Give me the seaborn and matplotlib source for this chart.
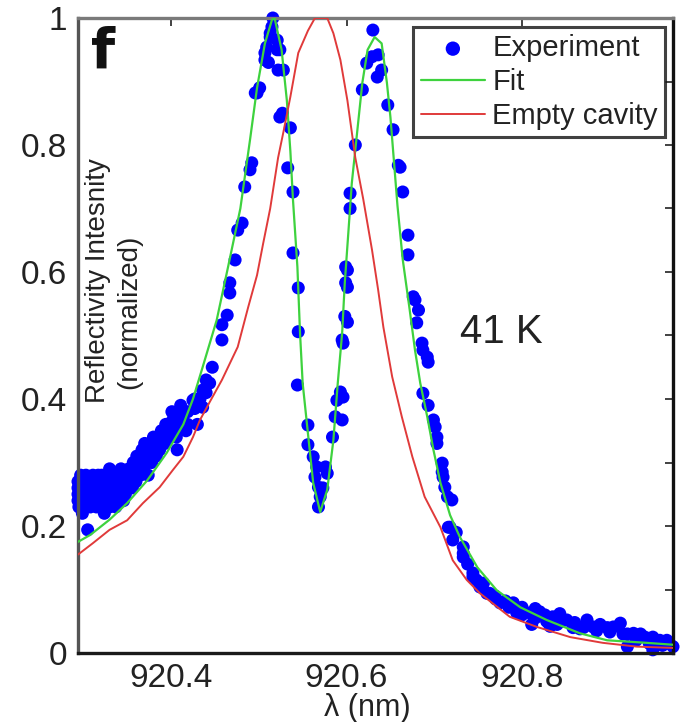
import numpy as np
import pandas as pd
import matplotlib
matplotlib.use("Agg")
import matplotlib.pyplot as plt
from matplotlib.ticker import MultipleLocator, FixedLocator, FixedFormatter
import seaborn as sns

# ---------------- data ----------------
exp_wl = [
    920.294, 920.294, 920.295, 920.297, 920.299, 920.302, 920.303, 920.305, 920.307, 920.310,
    920.311, 920.315, 920.316, 920.319, 920.320, 920.324, 920.325, 920.328, 920.329, 920.333,
    920.334, 920.337, 920.338, 920.342, 920.343, 920.346, 920.348, 920.351, 920.352, 920.356,
    920.357, 920.360, 920.361, 920.365, 920.366, 920.369, 920.370, 920.374, 920.375, 920.378,
    920.380, 920.383, 920.384, 920.387, 920.389, 920.393, 920.394, 920.399, 920.399, 920.403,
    920.407, 920.409, 920.414, 920.417, 920.425, 920.430, 920.436, 920.436, 920.444, 920.447,
    920.458, 920.458, 920.464, 920.467, 920.467, 920.473, 920.476, 920.481, 920.484, 920.490,
    920.492, 920.496, 920.498, 920.501, 920.507, 920.507, 920.509, 920.511, 920.513, 920.513,
    920.515, 920.516, 920.521, 920.521, 920.524, 920.522, 920.528, 920.524, 920.527, 920.536,
    920.533, 920.539, 920.539, 920.545, 920.545, 920.544, 920.556, 920.556, 920.562, 920.566,
    920.564, 920.568, 920.570, 920.568, 920.576, 920.578, 920.573, 920.584, 920.587, 920.589,
    920.593, 920.595, 920.596, 920.595, 920.596, 920.598, 920.601, 920.599, 920.601, 920.599,
    920.601, 920.604, 920.604, 920.610, 920.618, 920.623, 920.629, 920.630, 920.635, 920.636,
    920.640, 920.647, 920.653, 920.659, 920.661, 920.664, 920.670, 920.670, 920.676, 920.678,
    920.680, 920.682, 920.686, 920.687, 920.692, 920.693, 920.687, 920.693, 920.699, 920.701,
    920.703, 920.703, 920.709, 920.709, 920.710, 920.712, 920.715, 920.720, 920.716, 920.718,
    920.721, 920.733, 920.733, 920.733, 920.744, 920.744, 920.752, 920.756, 920.760, 920.763,
    920.769, 920.775, 920.781, 920.790, 920.794, 920.800, 920.809, 920.811, 920.815, 920.820,
    920.826, 920.828, 920.832, 920.835, 920.840, 920.843, 920.851, 920.860, 920.866, 920.874,
    920.881, 920.889, 920.897, 920.904, 920.912, 920.920, 920.920, 920.927, 920.935, 920.940,
    920.949, 920.949, 920.957, 920.965, 920.968, 920.972,
    # denser parts of the low-wavelength shoulder
    920.294, 920.294, 920.299, 920.299, 920.303, 920.303, 920.308, 920.308, 920.312, 920.312,
    920.317, 920.317, 920.321, 920.321, 920.321, 920.326, 920.326, 920.330, 920.330, 920.330,
    920.335, 920.335, 920.339, 920.339, 920.344, 920.344, 920.348, 920.348, 920.353, 920.353,
    920.357, 920.357, 920.362, 920.362, 920.367, 920.367, 920.371, 920.371, 920.376, 920.376,
    920.381, 920.381, 920.385, 920.385, 920.390, 920.390, 920.397, 920.397, 920.401, 920.401,
    920.406, 920.406, 920.411, 920.411, 920.419, 920.419, 920.427, 920.427, 920.433, 920.440,
    920.440,
    # denser parts of the high-wavelength tail
    920.725, 920.738, 920.748, 920.770, 920.785, 920.800, 920.815, 920.830, 920.845, 920.858,
    920.870, 920.885, 920.900, 920.915, 920.930, 920.945, 920.960,
]
exp_val = [
    0.250, 0.270, 0.230, 0.280, 0.220, 0.260, 0.240, 0.194, 0.270, 0.250,
    0.280, 0.230, 0.270, 0.260, 0.240, 0.220, 0.270, 0.250, 0.280, 0.240,
    0.270, 0.230, 0.280, 0.250, 0.290, 0.240, 0.280, 0.260, 0.290, 0.260,
    0.300, 0.270, 0.310, 0.280, 0.310, 0.290, 0.330, 0.280, 0.320, 0.300,
    0.340, 0.310, 0.315, 0.320, 0.350, 0.330, 0.360, 0.340, 0.362, 0.370,
    0.320, 0.360, 0.378, 0.350, 0.398, 0.360, 0.414, 0.387, 0.425, 0.450,
    0.493, 0.517, 0.532, 0.567, 0.583, 0.619, 0.666, 0.677, 0.734, 0.761,
    0.772, 0.882, 0.882, 0.890, 0.934, 0.945, 0.954, 0.930, 0.970, 0.976,
    0.986, 1.000, 0.965, 0.950, 0.950, 0.918, 0.918, 0.844, 0.850, 0.827,
    0.764, 0.726, 0.630, 0.575, 0.506, 0.422, 0.359, 0.328, 0.309, 0.293,
    0.277, 0.261, 0.246, 0.230, 0.293, 0.283, 0.260, 0.340, 0.372, 0.398,
    0.411, 0.367, 0.403, 0.493, 0.488, 0.530, 0.521, 0.583, 0.576, 0.608,
    0.603, 0.700, 0.724, 0.800, 0.887, 0.929, 0.939, 0.981, 0.907, 0.942,
    0.918, 0.863, 0.824, 0.768, 0.765, 0.726, 0.658, 0.627, 0.561, 0.556,
    0.520, 0.540, 0.488, 0.477, 0.466, 0.458, 0.409, 0.390, 0.367, 0.356,
    0.340, 0.330, 0.299, 0.285, 0.277, 0.261, 0.246, 0.241, 0.198, 0.198,
    0.178, 0.167, 0.151, 0.157, 0.120, 0.126, 0.104, 0.110, 0.094, 0.094,
    0.090, 0.079, 0.082, 0.079, 0.063, 0.072, 0.063, 0.045, 0.070, 0.065,
    0.060, 0.050, 0.042, 0.057, 0.045, 0.062, 0.052, 0.048, 0.038, 0.052,
    0.041, 0.045, 0.040, 0.041, 0.047, 0.030, 0.010, 0.031, 0.030, 0.025,
    0.025, 0.005, 0.020, 0.020, 0.015, 0.010,
    0.240, 0.260, 0.250, 0.270, 0.280, 0.260, 0.230, 0.260, 0.240, 0.270,
    0.250, 0.280, 0.230, 0.260, 0.280, 0.240, 0.260, 0.230, 0.260, 0.290,
    0.250, 0.280, 0.240, 0.260, 0.260, 0.270, 0.250, 0.270, 0.270, 0.280,
    0.280, 0.290, 0.290, 0.300, 0.300, 0.320, 0.310, 0.300, 0.310, 0.330,
    0.320, 0.330, 0.330, 0.340, 0.340, 0.330, 0.350, 0.345, 0.350, 0.380,
    0.360, 0.340, 0.370, 0.390, 0.380, 0.360, 0.400, 0.385, 0.400, 0.410,
    0.430,
    0.190, 0.140, 0.115, 0.085, 0.072, 0.060, 0.055, 0.048, 0.050, 0.040,
    0.040, 0.035, 0.033, 0.030, 0.020, 0.015, 0.012,
]

fit_wl = [
    920.294, 920.308, 920.330, 920.350, 920.373, 920.395, 920.414, 920.425, 920.436, 920.452,
    920.465, 920.479, 920.490, 920.498, 920.507, 920.515, 920.518, 920.526, 920.532, 920.536,
    920.539, 920.544, 920.547, 920.550, 920.556, 920.562, 920.570, 920.578, 920.585, 920.590,
    920.595, 920.598, 920.602, 920.606, 920.612, 920.618, 920.624, 920.632, 920.640, 920.646,
    920.650, 920.653, 920.658, 920.664, 920.672, 920.678, 920.684, 920.692, 920.699, 920.707,
    920.718, 920.729, 920.749, 920.771, 920.798, 920.828, 920.866, 920.897, 920.942, 920.972,
]
fit_val = [
    0.175, 0.186, 0.210, 0.236, 0.272, 0.315, 0.360, 0.400, 0.450, 0.524,
    0.608, 0.700, 0.808, 0.890, 0.960, 0.997, 1.000, 0.950, 0.870, 0.790,
    0.713, 0.608, 0.504, 0.425, 0.346, 0.268, 0.222, 0.257, 0.335, 0.425,
    0.504, 0.583, 0.661, 0.740, 0.819, 0.898, 0.950, 0.970, 0.960, 0.898,
    0.844, 0.792, 0.705, 0.620, 0.540, 0.477, 0.425, 0.372, 0.320, 0.268,
    0.217, 0.183, 0.135, 0.099, 0.072, 0.052, 0.031, 0.020, 0.016, 0.013,
]

empty_wl = [
    920.294, 920.311, 920.330, 920.350, 920.368, 920.387, 920.402, 920.414, 920.425, 920.433,
    920.444, 920.458, 920.476, 920.488, 920.498, 920.505, 920.513, 920.522, 920.528, 920.536,
    920.545, 920.556, 920.564, 920.578, 920.585, 920.593, 920.601, 920.610, 920.619, 920.629,
    920.636, 920.642, 920.652, 920.663, 920.675, 920.689, 920.707, 920.721, 920.737, 920.752,
    920.786, 920.817, 920.855, 920.892, 920.931, 920.972,
]
empty_val = [
    0.155, 0.173, 0.194, 0.209, 0.236, 0.261, 0.288, 0.309, 0.340, 0.367,
    0.395, 0.430, 0.482, 0.545, 0.595, 0.645, 0.700, 0.780, 0.820, 0.876,
    0.945, 0.980, 1.000, 1.000, 0.976, 0.934, 0.870, 0.780, 0.715, 0.635,
    0.572, 0.513, 0.435, 0.372, 0.309, 0.246, 0.198, 0.146, 0.115, 0.094,
    0.057, 0.041, 0.025, 0.016, 0.010, 0.008,
]

x_ticks = [920.4, 920.6, 920.8]
x_tick_labels = ["920.4", "920.6", "920.8"]
y_ticks = [0, 0.2, 0.4, 0.6, 0.8, 1.0]
y_tick_labels = ["0", "0.2", "0.4", "0.6", "0.8", "1"]

# ---------------- plotting ----------------
sns.set_style("white")
plt.rcParams["font.family"] = ["Liberation Sans", "DejaVu Sans"]

exp_df = pd.DataFrame({"wl": exp_wl, "val": exp_val})
fit_df = pd.DataFrame({"wl": fit_wl, "val": fit_val})
empty_df = pd.DataFrame({"wl": empty_wl, "val": empty_val})

fig = plt.figure(figsize=(6.83, 7.22), dpi=100)
ax = fig.add_axes([78 / 683, 69 / 722, 595 / 683, 635 / 722])

sns.scatterplot(data=exp_df, x="wl", y="val", ax=ax, color="#0000ff", s=88,
                edgecolor="none", linewidth=0, label="Experiment", zorder=2,
                clip_on=False)
sns.lineplot(data=fit_df, x="wl", y="val", ax=ax, color="#3ed23e", linewidth=1.6,
             label="Fit", zorder=3, sort=False)
sns.lineplot(data=empty_df, x="wl", y="val", ax=ax, color="#e03a3a", linewidth=1.4,
             label="Empty cavity", zorder=3, sort=False)

ax.set_xlim(920.294, 920.972)
ax.set_ylim(0, 1)

ax.xaxis.set_major_locator(FixedLocator(x_ticks))
ax.xaxis.set_major_formatter(FixedFormatter(x_tick_labels))
ax.yaxis.set_major_locator(FixedLocator(y_ticks))
ax.yaxis.set_major_formatter(FixedFormatter(y_tick_labels))
ax.yaxis.set_minor_locator(MultipleLocator(0.1))

ax.tick_params(axis="both", which="both", direction="in", length=6, width=1.3,
               top=True, right=True, colors="#333333", labelcolor="#222222")
ax.tick_params(axis="x", which="major", labelsize=24, pad=7)
ax.tick_params(axis="y", which="major", labelsize=24, pad=8)

ax.spines["top"].set_color("#7a7a7a")
ax.spines["left"].set_color("#555555")
ax.spines["bottom"].set_color("#1a1a1a")
ax.spines["right"].set_color("#111111")
for sp in ax.spines.values():
    sp.set_linewidth(2.4)

ax.set_xlabel("")
ax.set_ylabel("")
fig.text(367 / 683, 1 - 708 / 722, "λ (nm)", fontsize=22, color="#222222",
         ha="center", va="center")

ax.text(0.022, 0.988, "f", transform=ax.transAxes, fontsize=40, fontweight="bold",
        family=["DejaVu Sans"], ha="left", va="top", color="#111111")
ax.text(0.034, 0.587, "Reflectivity Intesnity", transform=ax.transAxes, rotation=90,
        fontsize=20, ha="center", va="center", color="#222222")
ax.text(0.086, 0.537, "(normalized)", transform=ax.transAxes, rotation=90,
        fontsize=20, ha="center", va="center", color="#222222")
ax.text(0.711, 0.505, "41 K", transform=ax.transAxes, fontsize=29,
        ha="center", va="center", color="#222222")

leg = ax.legend(loc="upper right", bbox_to_anchor=(0.9866, 0.9858), borderaxespad=0,
                fontsize=21, frameon=True, fancybox=False, handlelength=2.2,
                handletextpad=0.25, labelspacing=0.2, borderpad=0.25,
                markerscale=1.1)
leg.get_frame().set_edgecolor("#111111")
leg.get_frame().set_linewidth(2.2)
for t in leg.get_texts():
    t.set_color("#222222")

fig.savefig("out.png", dpi=100)
